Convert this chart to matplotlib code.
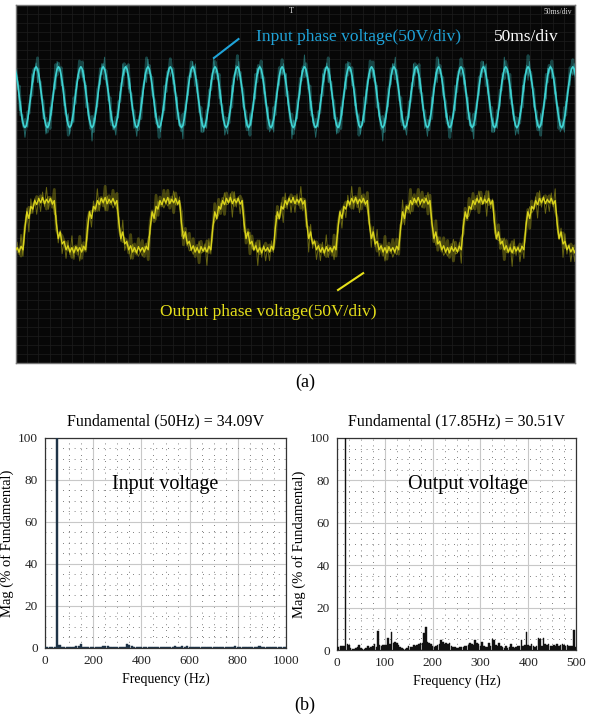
import numpy as np
import matplotlib
matplotlib.use("Agg")
import matplotlib.pyplot as plt

plt.rcParams['font.family'] = ['Liberation Serif', 'DejaVu Serif']

# ---- scope data (one period each, in divisions) ----
input_period_ms = 20.0
input_cycle = [0.0, 0.26, 0.48, 0.63, 0.68, 0.63, 0.48, 0.26,
               0.0, -0.26, -0.48, -0.63, -0.68, -0.63, -0.48, -0.26]
input_center = 1.94
input_start_ms = -7.0

output_period_ms = 56.0
output_cycle = [-0.05, 0.3, 0.15, 0.42, 0.36,
                0.55, 0.46, 0.6, 0.5, 0.62, 0.48, 0.58, 0.5, 0.6, 0.47, 0.55,
                0.05, -0.3, -0.15, -0.42, -0.36,
                -0.55, -0.46, -0.6, -0.5, -0.62, -0.48, -0.58, -0.5, -0.6, -0.47, -0.55]
output_center = -0.92
output_start_ms = -48.0

# fixed spike pattern of the scope traces (divisions)
spikes = [0.0, 0.16, -0.1, 0.05, -0.22, 0.12, 0.02, -0.07, 0.25, -0.14, 0.08, -0.03, 0.18]

# ---- FFT data ----
in_freq_step = 10.0
in_mag = [0.5, 0.5, 0.5, 0.5, 0.5, 100, 1.5, 0.5, 0.3, 0.3,
          0.3, 0.3, 0.5, 0.8, 1.0, 2.0, 0.5, 0.3, 0.3, 0.3,
          0.5, 0.4, 0.3, 0.3, 0.8, 1.0, 0.8, 0.3, 0.3, 0.3,
          0.5, 0.3, 0.3, 0.5, 2.0, 1.5, 0.8, 0.4, 0.3, 0.3,
          0.3, 0.3, 0.3, 0.3, 0.3, 0.3, 0.3, 0.3, 0.3, 0.3,
          0.3, 0.3, 0.3, 0.4, 0.8, 0.5, 0.5, 0.8, 0.4, 0.8,
          0.3, 0.3, 0.3, 0.3, 0.3, 0.3, 0.3, 0.3, 0.3, 0.3,
          0.6, 0.3, 0.3, 0.3, 0.3, 0.3, 0.3, 0.3, 0.3, 0.8,
          0.6, 0.5, 0.3, 0.3, 0.7, 0.3, 0.3, 0.3, 0.3, 1.0,
          0.5, 0.3, 0.3, 0.5, 0.3, 0.3, 0.3, 0.3, 0.7, 0.4, 0.5]

out_freq_step = 17.85 / 5
out_mag = [1.5, 1.5, 2, 2, 2, 100, 3, 2.5, 1, 0.5,
           0.5, 0.8, 1.5, 2.5, 1, 0.5, 0.5, 1, 1.8, 1,
           1.2, 2, 3, 1.5, 9, 2.5, 2, 2.5, 2.5, 2.5,
           5.5, 3, 8.5, 3.5, 4, 3.5, 2.5, 1.5, 1, 0.5,
           0.5, 0.8, 2, 1.2, 1.5, 2.5, 2, 2.5, 3, 3.5,
           3.5, 8, 11, 4, 3.5, 3, 2, 1.5, 2, 2.5,
           3, 4.5, 4, 3, 3.5, 3, 3.2, 2, 1.5, 1.5,
           1, 1, 1.2, 1.5, 1.5, 1.8, 2, 2.5, 3.5, 3,
           2.5, 4.5, 3.5, 3, 2, 4, 2, 1.5, 1.5, 3.5,
           2, 5, 4.5, 2.5, 2, 3.5, 2, 1.5, 1, 2,
           1, 1.5, 3, 1.5, 1, 1.2, 2, 2, 4.5, 2,
           2.5, 8.5, 2.5, 2, 3, 2, 1.5, 2, 5.5, 5.2,
           2, 5.5, 3, 2.5, 3, 2, 2, 2.5, 2, 3,
           2, 2.5, 3, 2.5, 2, 2.5, 2, 2, 2, 9.5, 1.5]


def tile_trace(cycle, period, start, center, t_end=510.0):
    n = len(cycle)
    reps = int((t_end - start) / period) + 2
    vals = np.array(cycle * reps) + center
    t = start + np.arange(len(vals)) * period / n
    return t, vals


def draw_scope(ax):
    ax.set_facecolor('#070707')
    ax.set_xlim(0, 500)
    ax.set_ylim(-4, 4)
    for x in np.arange(0, 500.1, 10):
        ax.axvline(x, color='#1d1d1d', lw=0.5, zorder=0)
    for y in np.arange(-4, 4.01, 0.2):
        ax.axhline(y, color='#1d1d1d', lw=0.5, zorder=0)
    ax.set_xticks([])
    ax.set_yticks([])
    for s in ax.spines.values():
        s.set_color('#777777')
        s.set_linewidth(1.0)

    for cyc, per, st, cen, col, lw in [
            (input_cycle, input_period_ms, input_start_ms, input_center, '#3fd3d3', 1.2),
            (output_cycle, output_period_ms, output_start_ms, output_center, '#d9d31c', 1.0)]:
        t, v = tile_trace(cyc, per, st, cen)
        jit = np.array((spikes * (len(v) // len(spikes) + 1))[:len(v)])
        ax.plot(t, v + jit, color=col, lw=2.0, alpha=0.3, zorder=2)
        ax.plot(t, v - jit * 1.2, color=col, lw=0.7, alpha=0.45, zorder=2)
        ax.plot(t, v, color=col, lw=lw, zorder=3)

    ax.text(0.43, 0.912, 'Input phase voltage(50V/div)', transform=ax.transAxes,
            color='#1fa3d8', fontsize=12.5, va='center', ha='left')
    ax.text(0.855, 0.912, '50ms/div', transform=ax.transAxes,
            color='white', fontsize=12.5, va='center', ha='left')
    ax.text(0.995, 0.992, '50ms/div', transform=ax.transAxes,
            color='#dddddd', fontsize=5.5, va='top', ha='right')
    ax.text(0.493, 0.995, 'T', transform=ax.transAxes,
            color='#dddddd', fontsize=6, va='top', ha='center')
    ax.text(0.258, 0.142, 'Output phase voltage(50V/div)', transform=ax.transAxes,
            color='#e6e01a', fontsize=12.5, va='center', ha='left')
    ax.plot([0.398, 0.354], [0.905, 0.852], transform=ax.transAxes,
            color='#1fa3d8', lw=1.5)
    ax.plot([0.621, 0.576], [0.251, 0.204], transform=ax.transAxes,
            color='#e6e01a', lw=1.5)


def draw_fft(ax, freqs, mags, width, xmax, xmajor, xminor, color, title, label, label_x):
    ax.bar(freqs, mags, width=width, color=color, edgecolor=color, lw=0.3, zorder=3)
    ax.set_xlim(0, xmax)
    ax.set_ylim(0, 100)
    ax.set_xticks(np.arange(0, xmax + 1, xmajor))
    ax.set_xticks(np.arange(0, xmax + 1, xminor), minor=True)
    ax.set_yticks(np.arange(0, 101, 20))
    ax.set_yticks(np.arange(0, 101, 5), minor=True)
    ax.grid(which='major', color='#c8c8c8', lw=0.8, zorder=0)
    ax.grid(which='minor', color='#555555', lw=0.6, ls=(0, (1, 6)), zorder=0)
    ax.tick_params(which='both', direction='in', length=0, labelsize=9.5,
                   colors='#222222', pad=5)
    for s in ax.spines.values():
        s.set_color('#333333')
        s.set_linewidth(0.9)
    ax.set_title(title, fontsize=11.5, pad=9)
    ax.set_xlabel('Frequency (Hz)', fontsize=10, labelpad=4)
    ax.set_ylabel('Mag (% of Fundamental)', fontsize=10.5, labelpad=3)
    ax.text(label_x, 0.78, label, transform=ax.transAxes, fontsize=14.5,
            ha='center', va='center', zorder=5)


def plot():
    fig = plt.figure(figsize=(5.89, 7.18), dpi=100)

    ax_s = fig.add_axes([0.0272, 0.4944, 0.9491, 0.4986])
    draw_scope(ax_s)
    fig.text(0.518, 0.468, '(a)', fontsize=13, ha='center', va='center')

    ax_l = fig.add_axes([0.0764, 0.0975, 0.4092, 0.2925])
    in_freqs = np.arange(len(in_mag)) * in_freq_step
    draw_fft(ax_l, in_freqs, in_mag, 9, 1000, 200, 50, '#1f3447',
             'Fundamental (50Hz) = 34.09V', 'Input voltage', 0.5)

    ax_r = fig.add_axes([0.5722, 0.0947, 0.4058, 0.2953])
    out_freqs = np.arange(len(out_mag)) * out_freq_step
    draw_fft(ax_r, out_freqs, out_mag, 3.2, 500, 100, 25, '#111111',
             'Fundamental (17.85Hz) = 30.51V', 'Output voltage', 0.55)

    fig.text(0.518, 0.018, '(b)', fontsize=13, ha='center', va='center')

    fig.savefig('out.png', dpi=100)


if __name__ == "__main__":
    plot()
